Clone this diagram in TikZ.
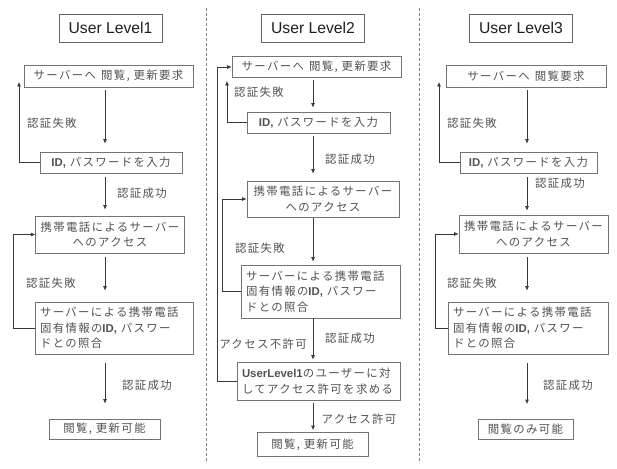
\documentclass[tikz,border=0pt]{standalone}
\usepackage{fontspec}
\setmainfont{Liberation Sans}
\newfontfamily\jp[LetterSpace=12]{Noto Sans CJK JP}
\usetikzlibrary{arrows.meta,calc}

\newcommand\jptext{\jp\fontsize{11.4}{15.5}\selectfont}
\newcommand\latb[1]{{\rmfamily\bfseries #1}}

\tikzset{
  flowbox/.style={draw=black!55, text=black!68, font=\jptext, inner xsep=5pt, inner ysep=0pt, line width=0.7pt},
  lbl/.style={text=black!68, font=\jptext, inner sep=0pt},
  ttl/.style={draw=black!60, text=black!88, font=\fontsize{15.7}{18}\selectfont, minimum width=103pt, minimum height=28pt, line width=0.7pt},
  arr/.style={draw=black!78, line width=0.7pt, -{Latex[length=4.5pt,width=4pt]}},
  divider/.style={draw=black!50, dash pattern=on 3pt off 2pt, line width=0.6pt}
}

\begin{document}
\begin{tikzpicture}[x=1pt,y=-1pt]
\fill[white] (0,0) rectangle (617,468);
\useasboundingbox (0,0) rectangle (617,468);

\draw[divider] (206,8) -- (206,463);
\draw[divider] (419,8) -- (419,463);

\coordinate (ax1) at (105,0);
\coordinate (ax2) at (313,0);
\coordinate (ax3) at (527,0);

% User Level1
\node[ttl] (t1) at (110.5,28) {User Level1};
\node[flowbox, minimum width=169pt, minimum height=22pt] (a1) at (108.5,76) {サーバーへ\hspace{5pt}閲覧,\ 更新要求};
\node[flowbox, minimum width=142pt, minimum height=21pt] (b1) at (111,162.5) {\latb{ID,} パスワードを入力};
\node[flowbox, minimum width=144pt, minimum height=37pt, align=center] (c1) at (110,234.5) {携帯電話によるサーバー\\へのアクセス};
\node[flowbox, minimum height=52pt, text width=148pt, align=left] (d1) at (114,328) {サーバーによる携帯電話\\固有情報の\latb{ID,} パスワー\\ドとの照合};
\node[flowbox, minimum width=111pt, minimum height=20pt] (e1) at (104.5,429) {閲覧,\ 更新可能};

\node[lbl] (l1a) at (52,123) {認証失敗};
\node[lbl] (l1b) at (142,193) {認証成功};
\node[lbl] (l1c) at (51,283) {認証失敗};
\node[lbl] (l1d) at (147,385) {認証成功};

\draw[arr, shorten <=3pt, shorten >=8pt] (a1.south -| ax1) -- (b1.north -| ax1);
\draw[arr, shorten <=4pt, shorten >=6pt] (b1.south -| ax1) -- (c1.north -| ax1);
\draw[arr, shorten <=4pt, shorten >=11pt] (c1.south -| ax1) -- (d1.north -| ax1);
\draw[arr, shorten <=9pt, shorten >=15pt] (d1.south -| ax1) -- (e1.north -| ax1);

\coordinate (fb1) at (19,82);
\coordinate (lp1) at (13,0);
\draw[arr] (b1.west) -| (fb1);
\draw[arr] (d1.west) -- (d1.west -| lp1) |- (c1.west);

% User Level2
\node[ttl] (t2) at (313,28) {User Level2};
\node[flowbox, minimum width=169pt, minimum height=21pt] (a2) at (316.5,67) {サーバーへ\hspace{5pt}閲覧,\ 更新要求};
\node[flowbox, minimum width=143pt, minimum height=21pt] (b2) at (318.5,122.5) {\latb{ID,} パスワードを入力};
\node[flowbox, minimum width=152pt, minimum height=36pt, align=center] (c2) at (323,199) {携帯電話によるサーバー\\へのアクセス};
\node[flowbox, minimum height=53pt, text width=149pt, align=left] (d2) at (320.5,291.5) {サーバーによる携帯電話\\固有情報の\latb{ID,} パスワー\\ドとの照合};
\node[flowbox, minimum height=38pt, text width=153pt, align=left] (e2) at (318.5,381) {\latb{UserLevel1}のユーザーに対\\してアクセス許可を求める};
\node[flowbox, minimum width=111pt, minimum height=24pt] (f2) at (312.5,444.5) {閲覧,\ 更新可能};

\node[lbl] (l2a) at (259,92) {認証失敗};
\node[lbl] (l2b) at (350,159) {認証成功};
\node[lbl] (l2c) at (260,248) {認証失敗};
\node[lbl] (l2d) at (350,338) {認証成功};
\node[lbl] (l2e) at (263,344) {アクセス不許可};
\node[lbl] (l2f) at (359,419) {アクセス許可};

\draw[arr, shorten <=2pt, shorten >=4pt] (a2.south -| ax2) -- (b2.north -| ax2);
\draw[arr, shorten <=3pt, shorten >=7pt] (b2.south -| ax2) -- (c2.north -| ax2);
\draw[arr, shorten <=1pt, shorten >=3pt] (c2.south -| ax2) -- (d2.north -| ax2);
\draw[arr, shorten >=2pt] (d2.south -| ax2) -- (e2.north -| ax2);
\draw[arr, shorten <=3pt, shorten >=2pt] (e2.south -| ax2) -- (f2.north -| ax2);

\coordinate (fb2) at (227,81);
\coordinate (lp2) at (222,0);
\coordinate (op2) at (217,0);
\draw[arr] (b2.west) -| (fb2);
\draw[arr] (d2.west) -- (d2.west -| lp2) |- (c2.west);
\draw[arr] (e2.west) -- (e2.west -| op2) |- (a2.west);

% User Level3
\node[ttl] (t3) at (521,28) {User Level3};
\node[flowbox, minimum width=160pt, minimum height=22pt] (a3) at (526,76) {サーバーへ\hspace{5pt}閲覧要求};
\node[flowbox, minimum width=137pt, minimum height=21pt] (b3) at (528.5,162.5) {\latb{ID,} パスワードを入力};
\node[flowbox, minimum width=149pt, minimum height=38pt, align=center] (c3) at (533.5,234) {携帯電話によるサーバー\\へのアクセス};
\node[flowbox, minimum height=52pt, text width=150pt, align=left] (d3) at (528,328) {サーバーによる携帯電話\\固有情報の\latb{ID,} パスワー\\ドとの照合};
\node[flowbox, minimum width=95pt, minimum height=20pt] (e3) at (525.5,429.5) {閲覧のみ可能};

\node[lbl] (l3a) at (472,123) {認証失敗};
\node[lbl] (l3b) at (560,183) {認証成功};
\node[lbl] (l3c) at (472,283) {認証失敗};
\node[lbl] (l3d) at (568,385) {認証成功};

\draw[arr, shorten <=3pt, shorten >=8pt] (a3.south -| ax3) -- (b3.north -| ax3);
\draw[arr, shorten <=4pt, shorten >=4pt] (b3.south -| ax3) -- (c3.north -| ax3);
\draw[arr, shorten <=4pt, shorten >=11pt] (c3.south -| ax3) -- (d3.north -| ax3);
\draw[arr, shorten <=9pt, shorten >=15pt] (d3.south -| ax3) -- (e3.north -| ax3);

\coordinate (fb3) at (439,82);
\coordinate (lp3) at (435,0);
\draw[arr] (b3.west) -| (fb3);
\draw[arr] (d3.west) -- (d3.west -| lp3) |- (c3.west);
\end{tikzpicture}
\end{document}
